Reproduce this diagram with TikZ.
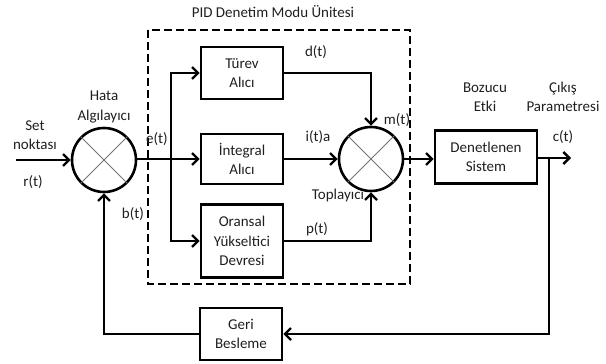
\documentclass[tikz,border=0pt]{standalone}
\usepackage{fontspec}
\setmainfont{Carlito}
\usetikzlibrary{arrows.meta}
\begin{document}
\begin{tikzpicture}[x=1pt,y=-1pt,
  line width=2.6pt,
  txt/.style={font=\fontsize{15}{19.5}\selectfont, text=black!88},
  blk/.style={draw, line width=2.6pt, minimum width=82pt, inner sep=0pt, align=center, txt},
  lbl/.style={txt, align=center, inner sep=0pt},
  sum/.style={draw, circle, line width=2.6pt, minimum size=64pt, inner sep=0pt},
  cross/.style={line width=0.8pt, draw=black!55},
  arr/.style={-{Straight Barb[length=6pt,width=12pt,line width=2.4pt]}},
  dbox/.style={line width=2.2pt, dash pattern=on 8pt off 4pt}
]
\useasboundingbox (0,0) rectangle (606,364);

% summing junctions
\node[sum] (h) at (104,160) {};
\draw[cross] (h.45) -- (h.225) (h.135) -- (h.315);
\node[sum] (s) at (371,159) {};
\draw[cross] (s.45) -- (s.225) (s.135) -- (s.315);

% blocks
\node[blk, minimum height=52pt] (tu) at (242,73) {Türev\\Alıcı};
\node[blk, minimum height=50pt] (in) at (242,159) {İntegral\\Alıcı};
\node[blk, minimum height=73pt] (or) at (242,241) {Oransal\\Yükseltici\\Devresi};
\node[blk, minimum width=102pt, minimum height=53pt] (de) at (486,157) {Denetlenen\\Sistem};
\node[blk, minimum height=52pt] (ge) at (241,334) {Geri\\Besleme};

% dashed PID unit
\draw[dbox] (148,30) rectangle (410,284);

% coordinates
\coordinate (r0) at (16,160);
\coordinate (br) at (171,159);
\coordinate (cb) at (549,158);
\coordinate (out) at (571,158);

% connectors
\draw[arr] (r0) -- (h);
\draw[arr] (h.east |- in) -- (in);
\draw[arr] (br) |- (tu);
\draw[arr] (br) |- (or);
\draw[arr] (tu) -| (s);
\draw[arr] (in) -- (s);
\draw[arr] (or) -| (s);
\draw[arr] (s) -- (de.west |- s);
\draw[arr] (de.east |- out) -- (out);
\draw[arr] (cb) |- (ge);
\draw[arr] (ge) -| (h);

% labels
\node[lbl] (t0) at (273,12) {PID Denetim Modu Ünitesi};
\node[lbl] (t1) at (35,135) {Set\\noktası};
\node[lbl] (t2) at (33,182) {r(t)};
\node[lbl] (t3) at (104,107) {Hata\\Algılayıcı};
\node[lbl] (t4) at (157,139) {e(t)};
\node[lbl] (t5) at (133,214) {b(t)};
\node[lbl] (t6) at (316,52) {d(t)};
\node[lbl] (t7) at (318,137) {i(t)a};
\node[lbl] (t8) at (397,120) {m(t)};
\node[lbl] (t9) at (338,195) {Toplayıcı};
\node[lbl] (t10) at (317,229) {p(t)};
\node[lbl] (t11) at (485,97) {Bozucu\\Etki};
\node[lbl] (t12) at (563,97) {Çıkış\\Parametresi};
\node[lbl] (t13) at (563,137) {c(t)};
\end{tikzpicture}
\end{document}
